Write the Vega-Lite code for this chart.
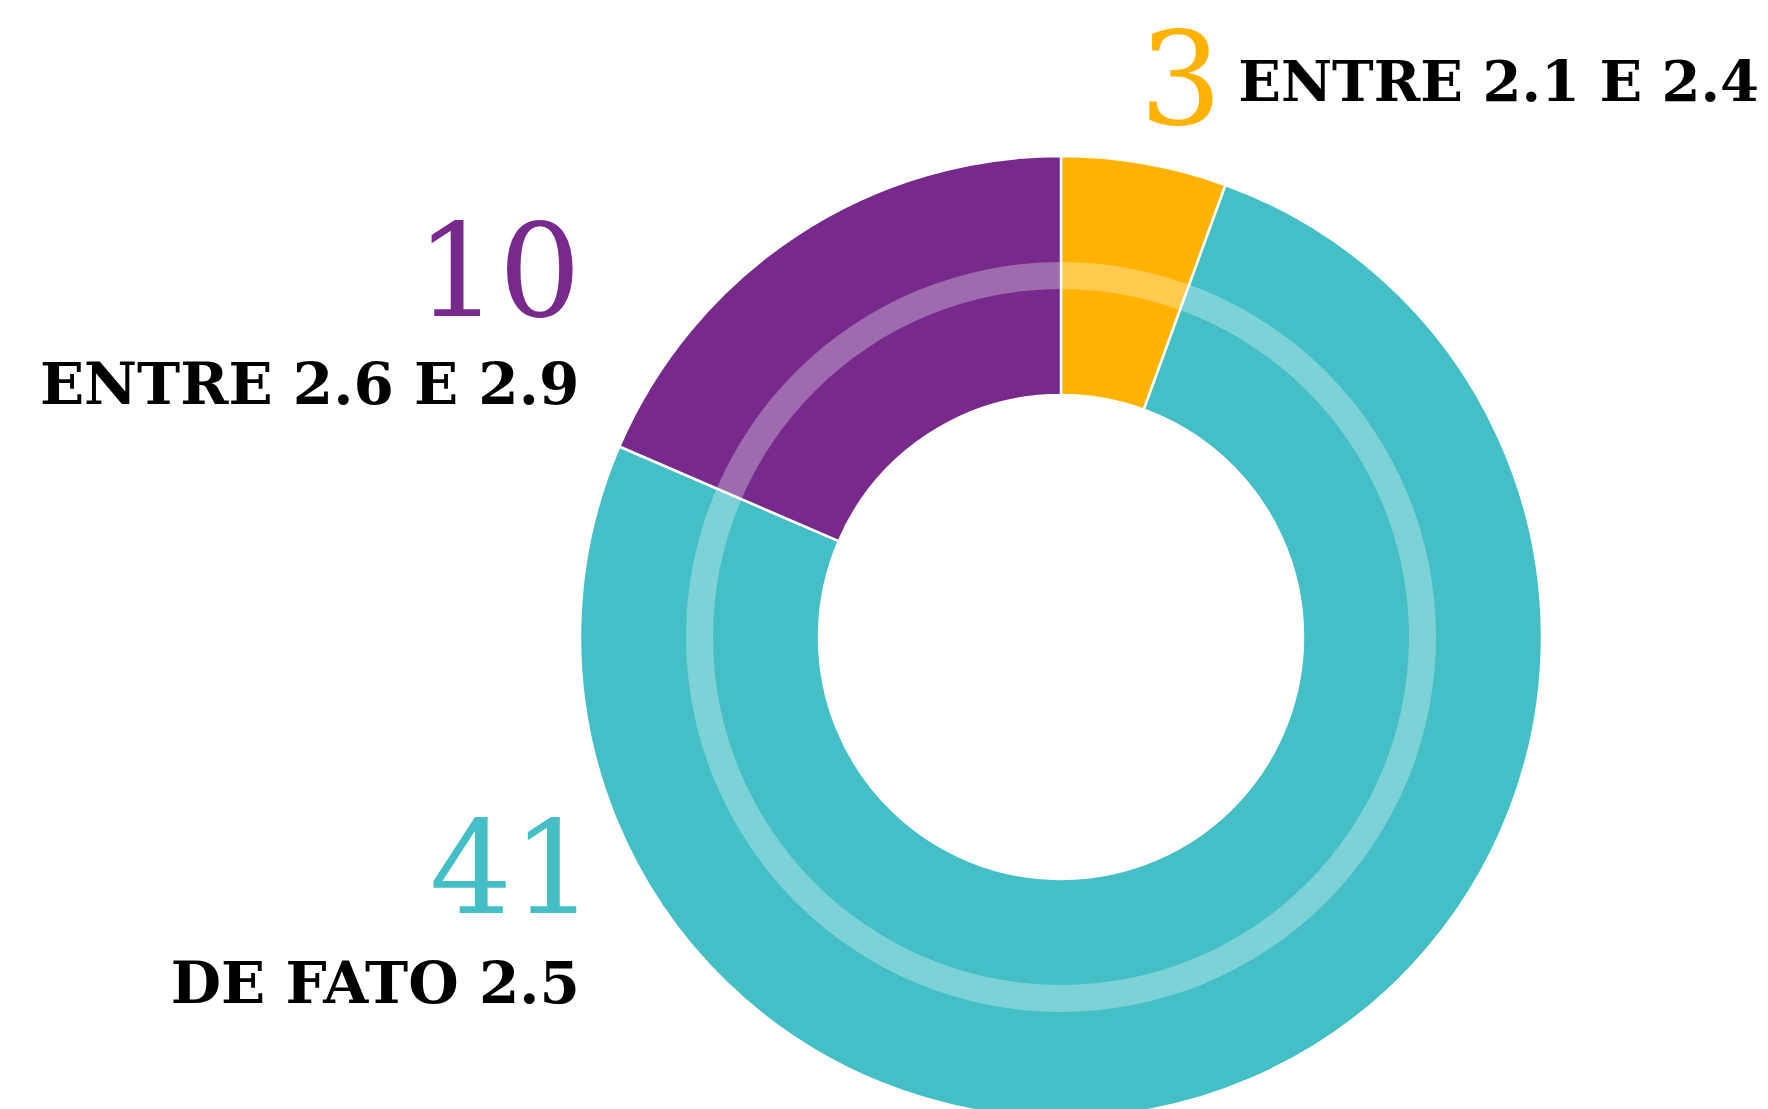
{
  "$schema": "https://vega.github.io/schema/vega-lite/v6.json",
  "autosize": "none",
  "width": 1414,
  "height": 944,
  "padding": {"left": 354, "top": 165, "right": 0, "bottom": 0},
  "background": "white",
  "config": {"view": {"stroke": null}},
  "data": {"values": [
    {"k": 1, "cat": "ENTRE 2.1 E 2.4", "n": 3},
    {"k": 2, "cat": "DE FATO 2.5", "n": 41},
    {"k": 3, "cat": "ENTRE 2.6 E 2.9", "n": 10}
  ]},
  "layer": [
    {
      "mark": {"type": "arc", "innerRadius": 242, "outerRadius": 481, "stroke": "white", "strokeWidth": 2.5},
      "encoding": {
        "theta": {"field": "n", "type": "quantitative", "stack": true},
        "order": {"field": "k", "type": "quantitative"},
        "color": {"field": "cat", "type": "nominal", "legend": null,
          "scale": {"domain": ["ENTRE 2.1 E 2.4", "DE FATO 2.5", "ENTRE 2.6 E 2.9"], "range": ["#FFB300", "#44BFC6", "#772A8C"]}}
      }
    },
    {
      "data": {"values": [{"ring": 1}]},
      "mark": {"type": "arc", "innerRadius": 348, "outerRadius": 375, "theta": 0, "theta2": 6.2832, "fill": "white", "opacity": 0.3},
      "encoding": {}
    },
    {
      "mark": {"type": "text", "radius": 560, "align": "right", "baseline": "alphabetic", "dx": 64, "dy": 38, "font": "DejaVu Serif", "fontSize": 130, "color": "#FFB300"},
      "encoding": {
        "theta": {"field": "n", "type": "quantitative", "stack": true},
        "order": {"field": "k", "type": "quantitative"},
        "text": {"condition": {"test": "datum.k == 1", "field": "n", "type": "quantitative"}, "value": ""}
      }
    },
    {
      "mark": {"type": "text", "radius": 560, "align": "left", "baseline": "alphabetic", "dx": 80, "dy": 15, "font": "DejaVu Serif", "fontSize": 56, "fontWeight": "bold", "color": "black"},
      "encoding": {
        "theta": {"field": "n", "type": "quantitative", "stack": true},
        "order": {"field": "k", "type": "quantitative"},
        "text": {"condition": {"test": "datum.k == 1", "field": "cat", "type": "nominal"}, "value": ""}
      }
    },
    {
      "mark": {"type": "text", "radius": 560, "align": "right", "baseline": "alphabetic", "dx": -172, "dy": 147, "font": "DejaVu Serif", "fontSize": 130, "color": "#772A8C"},
      "encoding": {
        "theta": {"field": "n", "type": "quantitative", "stack": true},
        "order": {"field": "k", "type": "quantitative"},
        "text": {"condition": {"test": "datum.k == 3", "field": "n", "type": "quantitative"}, "value": ""}
      }
    },
    {
      "mark": {"type": "text", "radius": 560, "align": "right", "baseline": "alphabetic", "dx": -174, "dy": 235, "font": "DejaVu Serif", "fontSize": 58, "fontWeight": "bold", "color": "black"},
      "encoding": {
        "theta": {"field": "n", "type": "quantitative", "stack": true},
        "order": {"field": "k", "type": "quantitative"},
        "text": {"condition": {"test": "datum.k == 3", "field": "cat", "type": "nominal"}, "value": ""}
      }
    },
    {
      "mark": {"type": "text", "radius": 560, "align": "right", "baseline": "alphabetic", "dx": -688, "dy": -238, "font": "DejaVu Serif", "fontSize": 130, "color": "#44BFC6"},
      "encoding": {
        "theta": {"field": "n", "type": "quantitative", "stack": true},
        "order": {"field": "k", "type": "quantitative"},
        "text": {"condition": {"test": "datum.k == 2", "field": "n", "type": "quantitative"}, "value": ""}
      }
    },
    {
      "mark": {"type": "text", "radius": 560, "align": "right", "baseline": "alphabetic", "dx": -703, "dy": -148, "font": "DejaVu Serif", "fontSize": 58, "fontWeight": "bold", "color": "black"},
      "encoding": {
        "theta": {"field": "n", "type": "quantitative", "stack": true},
        "order": {"field": "k", "type": "quantitative"},
        "text": {"condition": {"test": "datum.k == 2", "field": "cat", "type": "nominal"}, "value": ""}
      }
    }
  ]
}
